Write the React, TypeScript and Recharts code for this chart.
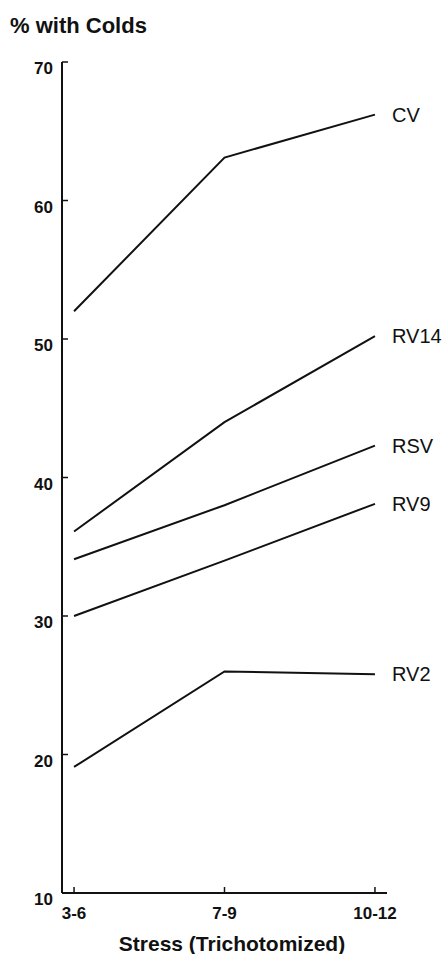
import React from 'react';
import { LineChart, Line, XAxis, YAxis, LabelList } from 'recharts';

const categories = ['3-6', '7-9', '10-12'];
const cv = [52.0, 63.1, 66.2];
const rv14 = [36.1, 44.0, 50.2];
const rsv = [34.1, 38.0, 42.3];
const rv9 = [30.0, 34.0, 38.1];
const rv2 = [19.1, 26.0, 25.8];
const yTicks = [10, 20, 30, 40, 50, 60, 70];
const seriesNames = ['CV', 'RV14', 'RSV', 'RV9', 'RV2'];
const seriesValues = [cv, rv14, rsv, rv9, rv2];

const data = categories.map((c, i) => {
  const row: Record<string, number | string> = { x: i, cat: c };
  seriesNames.forEach((n, k) => {
    row[n] = seriesValues[k][i];
  });
  return row;
});

const FONT = '"Liberation Sans", Arial, Helvetica, sans-serif';
const INK = '#111';

const YTick = (p: any) => (
  <g>
    <line x1={p.x} x2={p.x + 6} y1={p.y} y2={p.y} stroke={INK} strokeWidth={1.5} />
    <text x={p.x - 9} y={p.y + 12} textAnchor="end" fontFamily={FONT} fontWeight="bold" fontSize={17} fill={INK}>
      {p.payload.value}
    </text>
  </g>
);

const XTick = (p: any) => (
  <g>
    <line x1={p.x} x2={p.x} y1={p.y} y2={p.y - 6} stroke={INK} strokeWidth={1.5} />
    <text x={p.x} y={p.y + 26} textAnchor="middle" fontFamily={FONT} fontWeight="bold" fontSize={17} fill={INK}>
      {categories[p.payload.value]}
    </text>
  </g>
);

const makeEndLabel = (name: string) => (p: any) => {
  if (p.index !== categories.length - 1) return null;
  return (
    <text x={p.x + 17} y={p.y + 7} fontFamily={FONT} fontSize={20} fill={INK}>
      {name}
    </text>
  );
};

export default function App() {
  return (
    <div style={{ position: 'absolute', left: 0, top: 0, width: 443, height: 954, background: '#fff' }}>
      <LineChart
        width={443}
        height={954}
        data={data}
        margin={{ top: 62, right: 56, bottom: 0, left: 0 }}
      >
        <XAxis
          dataKey="x"
          type="number"
          domain={[-0.08, 2.08]}
          ticks={[0, 1, 2]}
          height={61}
          tickSize={0}
          tickMargin={0}
          tickLine={false}
          axisLine={{ stroke: INK, strokeWidth: 2 }}
          tick={XTick}
          interval={0}
        />
        <YAxis
          type="number"
          domain={[10, 70]}
          ticks={yTicks}
          width={62}
          tickSize={0}
          tickMargin={0}
          tickLine={false}
          axisLine={{ stroke: INK, strokeWidth: 2 }}
          tick={YTick}
          interval={0}
        />
        {seriesNames.map((n) => (
          <Line
            key={n}
            dataKey={n}
            type="linear"
            stroke={INK}
            strokeWidth={2}
            dot={false}
            activeDot={false}
            isAnimationActive={false}
          >
            <LabelList dataKey={n} content={makeEndLabel(n)} />
          </Line>
        ))}
      </LineChart>
      <svg width={443} height={954} style={{ position: 'absolute', left: 0, top: 0, pointerEvents: 'none' }}>
        <text x={10} y={33} fontFamily={FONT} fontWeight="bold" fontSize={22} fill={INK}>
          % with Colds
        </text>
        <text x={232} y={951} textAnchor="middle" fontFamily={FONT} fontWeight="bold" fontSize={21} fill={INK}>
          Stress (Trichotomized)
        </text>
      </svg>
    </div>
  );
}
